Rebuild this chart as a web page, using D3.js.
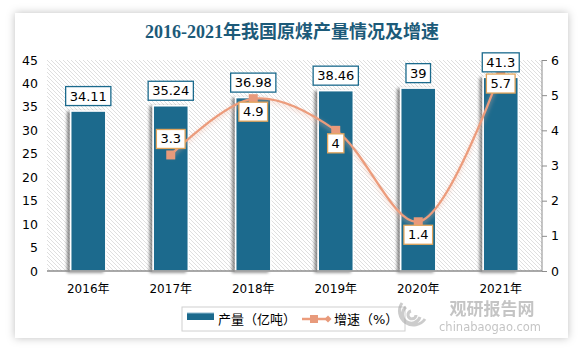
<!DOCTYPE html>
<html>
<head>
<meta charset="utf-8">
<script src="https://cdn.jsdelivr.net/npm/d3@7"></script>
<style>
  body { margin: 0; background: #fff; }
  #chart { width: 583px; height: 352px; }
</style>
</head>
<body>
<div id="chart"></div>
<script>
// Chart data
const years = ["2016年", "2017年", "2018年", "2019年", "2020年", "2021年"];
const output = [34.11, 35.24, 36.98, 38.46, 39, 41.3];
const growthYears = ["2017年", "2018年", "2019年", "2020年", "2021年"];
const growth = [3.3, 4.9, 4, 1.4, 5.7];
const leftTicks = [0, 5, 10, 15, 20, 25, 30, 35, 40, 45];
const rightTicks = [0, 1, 2, 3, 4, 5, 6];

// label above the marker only for the first point
const growthLabelAbove = [true, false, false, false, false];

const W = 583, H = 352;
const margin = { top: 60, right: 41, bottom: 81, left: 47 };
const width = W - margin.left - margin.right;
const height = H - margin.top - margin.bottom;

const barColor = "#1b6a8d";
const lineColor = "#ec9c7c";
const font = "'DejaVu Sans', 'Noto Sans CJK SC', sans-serif";

const svg = d3.select("#chart").append("svg")
  .attr("width", W).attr("height", H)
  .style("font-family", font);

const defs = svg.append("defs");

// card shadow
const cardShadow = defs.append("filter").attr("id", "cardShadow")
  .attr("x", "-10%").attr("y", "-10%").attr("width", "120%").attr("height", "120%");
cardShadow.append("feDropShadow").attr("dx", 0).attr("dy", 0)
  .attr("stdDeviation", 4).attr("flood-color", "#000").attr("flood-opacity", 0.25);

// bar shadow (falls to the left)
const barShadow = defs.append("filter").attr("id", "barShadow")
  .attr("x", "-40%").attr("y", "-10%").attr("width", "160%").attr("height", "120%");
barShadow.append("feDropShadow").attr("dx", -3).attr("dy", 1)
  .attr("stdDeviation", 1.5).attr("flood-color", "#000").attr("flood-opacity", 0.45);

const lineShadow = defs.append("filter").attr("id", "lineShadow")
  .attr("x", "-10%").attr("y", "-10%").attr("width", "120%").attr("height", "120%");
lineShadow.append("feDropShadow").attr("dx", 0).attr("dy", 2)
  .attr("stdDeviation", 2).attr("flood-color", "#f4b49c").attr("flood-opacity", 0.6);

// diagonal hatch pattern for plot background
const hatch = defs.append("pattern").attr("id", "hatch")
  .attr("patternUnits", "userSpaceOnUse").attr("width", 4).attr("height", 4);
hatch.append("rect").attr("width", 4).attr("height", 4).attr("fill", "#fff");
hatch.append("path").attr("d", "M-1,-1 L5,5 M-1,3 L1,5 M3,-1 L5,1")
  .attr("stroke", "#d9d9d9").attr("stroke-width", 0.85);

// white card
svg.append("rect")
  .attr("x", 15).attr("y", 13).attr("width", 553).attr("height", 325)
  .attr("fill", "#fff").attr("filter", "url(#cardShadow)");

// Title
svg.append("text")
  .attr("x", 292).attr("y", 38)
  .attr("text-anchor", "middle")
  .attr("font-family", "'Liberation Serif', 'Noto Sans CJK SC', serif")
  .attr("font-size", "18px").attr("font-weight", "bold")
  .attr("fill", "#1c5a79")
  .text("2016-2021年我国原煤产量情况及增速");

const g = svg.append("g").attr("transform", `translate(${margin.left},${margin.top})`);

// Scales
const x = d3.scaleBand().domain(years).range([0, width]).paddingInner(0.575).paddingOuter(0.2875);
const y = d3.scaleLinear().domain([0, 45]).range([height, 0]);
const y2 = d3.scaleLinear().domain([0, 6]).range([height, 0]);

g.append("rect").attr("width", width).attr("height", height).attr("fill", "url(#hatch)");

// Left axis (labels only)
const yAxis = g.append("g").call(d3.axisLeft(y).tickValues(leftTicks).tickSize(0).tickPadding(9));
yAxis.select(".domain").remove();
yAxis.selectAll("text").attr("font-size", "12.5px").attr("fill", "#000").attr("font-family", font);

// Right axis
const y2Axis = g.append("g").attr("transform", `translate(${width},0)`)
  .call(d3.axisRight(y2).tickValues(rightTicks).tickFormat(d3.format("d")).tickSize(5).tickPadding(4));
y2Axis.select(".domain").attr("stroke", "#8c8c8c").attr("d", `M0,0V${height}`);
y2Axis.selectAll(".tick line").attr("stroke", "#8c8c8c");
y2Axis.selectAll("text").attr("font-size", "12.5px").attr("fill", "#000").attr("font-family", font);

// Bars
g.selectAll(".bar").data(output).join("rect")
  .attr("class", "bar")
  .attr("x", (d, i) => x(years[i]))
  .attr("y", d => y(d))
  .attr("width", x.bandwidth())
  .attr("height", d => height - y(d))
  .attr("fill", barColor)
  .attr("stroke", "#fff").attr("stroke-width", 1.5)
  .attr("filter", "url(#barShadow)");

// Baseline
g.append("line").attr("x1", 0).attr("x2", width).attr("y1", height).attr("y2", height)
  .attr("stroke", "#8c8c8c").attr("stroke-width", 1.3);

// X axis labels
const xAxis = g.append("g").attr("transform", `translate(0,${height})`)
  .call(d3.axisBottom(x).tickSize(0).tickPadding(13));
xAxis.select(".domain").remove();
xAxis.selectAll("text").attr("font-size", "12px").attr("fill", "#000").attr("font-family", font);

// Value label helper: white box with a coloured border
function labelBox(parent, cx, cy, text, border) {
  const t = parent.append("text")
    .attr("x", cx).attr("y", cy)
    .attr("text-anchor", "middle").attr("dominant-baseline", "central")
    .attr("font-size", "13px").attr("fill", "#000")
    .text(text);
  const bb = t.node().getBBox();
  parent.insert("rect", () => t.node())
    .attr("x", cx - bb.width / 2 - 4).attr("y", cy - 9.5)
    .attr("width", bb.width + 8).attr("height", 19)
    .attr("fill", "#fff").attr("stroke", border).attr("stroke-width", 1.3);
}

// Growth line
const lx = d => x(d) + x.bandwidth() / 2;
const line = d3.line()
  .x((d, i) => lx(growthYears[i]))
  .y(d => y2(d))
  .curve(d3.curveCatmullRom.alpha(0.5));

g.append("path").datum(growth)
  .attr("d", line)
  .attr("fill", "none")
  .attr("stroke", lineColor).attr("stroke-width", 2.3)
  .attr("filter", "url(#lineShadow)");

g.selectAll(".marker").data(growth).join("rect")
  .attr("class", "marker")
  .attr("x", (d, i) => lx(growthYears[i]) - 4.5)
  .attr("y", d => y2(d) - 4.5)
  .attr("width", 9).attr("height", 9)
  .attr("fill", "#e89a7b");

// Bar labels
const labels = g.append("g");
output.forEach((d, i) => {
  labelBox(labels, x(years[i]) + x.bandwidth() / 2, y(d) - 15, d, barColor);
});

// Growth labels
growth.forEach((d, i) => {
  const cy = growthLabelAbove[i] ? y2(d) - 16 : y2(d) + 13;
  labelBox(labels, lx(growthYears[i]), cy, d, "#e2a55c");
});

// Legend
const legend = svg.append("g");
legend.append("rect").attr("x", 182).attr("y", 307).attr("width", 223).attr("height", 24)
  .attr("fill", "#fff").attr("stroke", "#d0d0d0");
legend.append("rect").attr("x", 187).attr("y", 313).attr("width", 27).attr("height", 7)
  .attr("fill", barColor);
legend.append("line").attr("x1", 187).attr("x2", 214).attr("y1", 313).attr("y2", 313)
  .attr("stroke", "#8fb9cf").attr("stroke-width", 1);
legend.append("text").attr("x", 218).attr("y", 319).attr("dominant-baseline", "central")
  .attr("font-size", "13px").attr("fill", "#000").text("产量（亿吨）");
legend.append("line").attr("x1", 302).attr("x2", 328).attr("y1", 319).attr("y2", 319)
  .attr("stroke", lineColor).attr("stroke-width", 2.5);
legend.append("rect").attr("x", 310).attr("y", 315).attr("width", 8).attr("height", 8)
  .attr("fill", "#e89a7b");
legend.append("path").attr("d", "M328,315.5 L331.5,319 L328,322.5 L324.5,319 Z").attr("fill", "#e89a7b");
legend.append("text").attr("x", 334).attr("y", 319).attr("dominant-baseline", "central")
  .attr("font-size", "13px").attr("fill", "#000").text("增速（%）");

// Watermark
const wm = svg.append("g").attr("opacity", 0.5);
wm.append("path")
  .attr("d", "M402,303 A14,14 0 1,0 425,319 M406,307 A9,9 0 1,0 420,317 M411,311 A4,4 0 1,0 416,315")
  .attr("fill", "none").attr("stroke", "#9a9a9a").attr("stroke-width", 3);
wm.append("text").attr("x", 492).attr("y", 315).attr("text-anchor", "middle")
  .attr("font-family", "'Noto Sans CJK SC', sans-serif").attr("font-weight", "bold")
  .attr("font-size", "17px").attr("fill", "#8a8a8a").text("观研报告网");
wm.append("text").attr("x", 490).attr("y", 331).attr("text-anchor", "middle")
  .attr("font-size", "11.5px").attr("fill", "#8a8a8a").text("chinabaogao.com");
</script>
</body>
</html>
